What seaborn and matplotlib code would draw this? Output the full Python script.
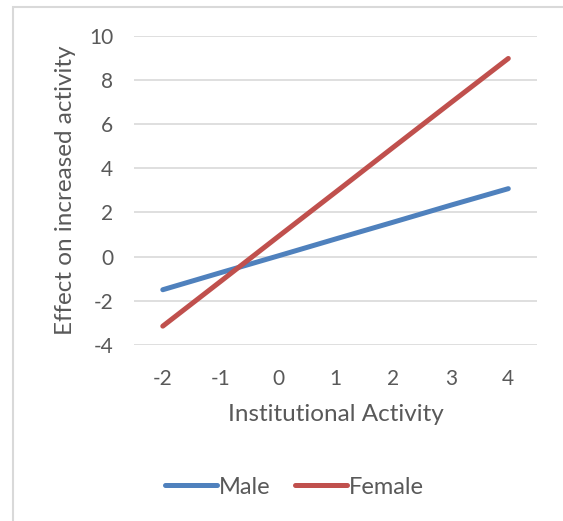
import pandas as pd
import seaborn as sns
from matplotlib import pyplot as plt
from matplotlib.patches import Rectangle

# values
institutional = [-2, -1, 0, 1, 2, 3, 4]
male = [-1.5, -0.73, 0.03, 0.8, 1.56, 2.33, 3.08]
female = [-3.15, -1.13, 0.9, 2.92, 4.95, 6.97, 8.98]
yticks = [-4, -2, 0, 2, 4, 6, 8, 10]

df = pd.DataFrame({'x': institutional * 2,
                   'y': male + female,
                   'sex': ['Male'] * len(male) + ['Female'] * len(female)})

sns.set_style('white')
plt.rcParams['font.family'] = ['Lato', 'DejaVu Sans']
plt.rcParams['axes.unicode_minus'] = False
grey = '#595959'

fig = plt.figure(figsize=(5.63, 5.21), dpi=100)
ax = fig.add_axes([0.238, 0.338, 0.716, 0.593])

sns.lineplot(data=df, x='x', y='y', hue='sex', palette={'Male': '#4F81BD', 'Female': '#C0504D'},
             linewidth=3.6, solid_capstyle='round', ax=ax, legend=False)

ax.set_xlim(-2.5, 4.5)
ax.set_ylim(-4, 10)
ax.set_yticks(yticks)
ax.set_xticks(institutional)
ax.yaxis.grid(True, color='#d9d9d9', linewidth=1.2)
ax.set_axisbelow(True)
sns.despine(ax=ax, left=True, bottom=True, top=True, right=True)
ax.tick_params(axis='both', length=0, labelsize=15, labelcolor=grey)
ax.tick_params(axis='x', pad=17)
ax.tick_params(axis='y', pad=15)
ax.set_xlabel('Institutional Activity', fontsize=17.5, color=grey, labelpad=11)
ax.set_ylabel('Effect on increased activity', fontsize=17.5, color=grey, labelpad=9)

# legend below the plot
handles = [plt.Line2D([], [], color='#4F81BD', lw=3.6, solid_capstyle='round'),
           plt.Line2D([], [], color='#C0504D', lw=3.6, solid_capstyle='round')]
leg = fig.legend(handles, ['Male', 'Female'], loc='center', bbox_to_anchor=(0.523, 0.065),
                 ncol=2, frameon=False, fontsize=17, handlelength=2.2, handletextpad=0.1,
                 columnspacing=1.0)
for t in leg.get_texts():
    t.set_color(grey)

# chart frame (cropped at right and bottom)
fig.patches.append(Rectangle((0.023, -0.1), 1.2, 1.087, transform=fig.transFigure,
                             fill=False, edgecolor='#d9d9d9', linewidth=1.5))

fig.savefig('out.png', dpi=100)
